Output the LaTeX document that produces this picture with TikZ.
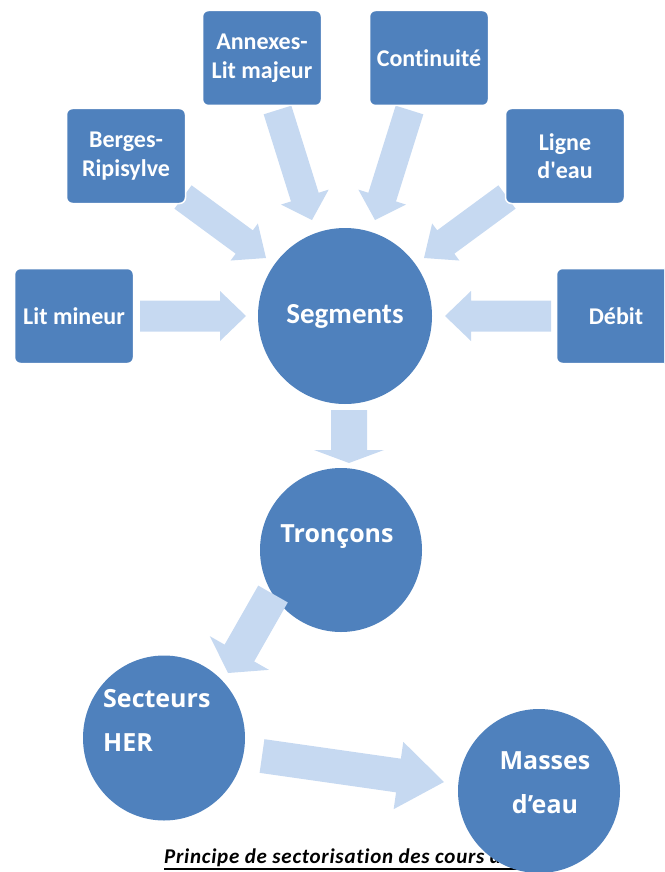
\documentclass[tikz,border=0pt]{standalone}
\usepackage{fontspec}
\setmainfont{Carlito}[Ligatures={TeXOff,CommonOff}]
\newfontfamily\circfont{Open Sans}
\newfontfamily\capfont{Carlito}[LetterSpace=3.5,Ligatures=CommonOff]
\usetikzlibrary{calc,shapes.geometric}
\definecolor{boxblue}{HTML}{4F81BD}
\definecolor{arrowblue}{HTML}{C6D9F1}
\newcommand\blockarrow[5]{%
  \coordinate (ba-h) at ($(#2)!#5!(#1)$);
  \fill[arrowblue] ($(#1)!#3!90:(#2)$) -- ($(ba-h)!#3!90:(#2)$) -- ($(ba-h)!#4!90:(#2)$) -- (#2)
    -- ($(ba-h)!#4!-90:(#2)$) -- ($(ba-h)!#3!-90:(#2)$) -- ($(#1)!#3!-90:(#2)$) -- cycle;
}
\begin{document}
\begin{tikzpicture}[x=1pt,y=-1pt,
  box/.style={fill=boxblue, draw=white, line width=1.5pt, rounded corners=6pt,
    minimum width=119pt, minimum height=95pt, text=white,
    font=\bfseries\fontsize{24}{28.5}\selectfont, align=center, inner sep=0pt},
  circ/.style={ellipse, fill=boxblue, inner sep=0pt},
  ctext/.style={text=white, font=\circfont\bfseries\fontsize{25}{30}\selectfont, inner sep=0pt}]
\useasboundingbox (0,0) rectangle (664,872);
\clip (0,0) rectangle (664,872);

% circles
\node[circ, minimum width=174pt, minimum height=176pt, text=white,
  font=\bfseries\fontsize{29}{34}\selectfont] (seg) at (345,316) {Segments};
\node[circ, minimum width=162pt, minimum height=164pt] (tron) at (341,550) {};
\node[circ, minimum width=162pt, minimum height=165pt] (sect) at (164,738) {};

% caption
\node[anchor=base west, inner sep=0pt, font=\capfont\bfseries\itshape\fontsize{21}{24}\selectfont]
  (cap) at (164,863) {Principe de sectorisation des cours d'eau};
\draw[line width=1.6pt] ([yshift=-6pt]cap.base west) -- ([yshift=-6pt]cap.base east);
\node[circ, minimum width=162pt, minimum height=164pt] (mass) at (539,791) {};

% arrow end points
\coordinate (litA) at (140,316);   \coordinate (litB) at (246,316);
\coordinate (debA) at (551,316);   \coordinate (debB) at (445,316);
\coordinate (berA) at (183,197);   \coordinate (berB) at (266,258);
\coordinate (ligA) at (507,197);   \coordinate (ligB) at (424,258);
\coordinate (annA) at (277.5,110); \coordinate (annB) at (312,220);
\coordinate (conA) at (409.5,110); \coordinate (conB) at (375,220);
\coordinate (stA) at (349,410);    \coordinate (stB) at (349,463);
\coordinate (tsA) at (273,594);    \coordinate (tsB) at (228,673);
\coordinate (smA) at (262,756);    \coordinate (smB) at (444,782);

\blockarrow{litA}{litB}{15.5pt}{25pt}{26pt}
\blockarrow{debA}{debB}{15.5pt}{25pt}{26pt}
\blockarrow{berA}{berB}{14.5pt}{23pt}{27pt}
\blockarrow{ligA}{ligB}{14.5pt}{23pt}{27pt}
\blockarrow{annA}{annB}{14.5pt}{25pt}{24pt}
\blockarrow{conA}{conB}{14.5pt}{25pt}{24pt}
\blockarrow{stA}{stB}{18pt}{35pt}{13pt}
\blockarrow{tsA}{tsB}{17pt}{34pt}{23pt}
\blockarrow{smA}{smB}{17pt}{34pt}{46pt}

% boxes
\node[box] (litmin) at (74,316) {Lit mineur};
\node[box] (berges) at (126,156) {Berges-\\Ripisylve};
\node[box] (annex) at (262,58) {Annexes-\\Lit majeur};
\node[box] (conti) at (429,58) {Continuité};
\node[box] (ligne) at (565,156) {Ligne\\d'eau};
\node[box] (debit) at (616,316) {Débit};

% circle labels
\node[ctext, anchor=base] (ttron) at (337,542) {Tronçons};
\node[ctext, anchor=base west] (tsec1) at (103,707) {Secteurs};
\node[ctext, anchor=base west] (tsec2) at (103,751) {HER};
\node[ctext, anchor=base] (tmas1) at (545,769) {Masses};
\node[ctext, anchor=base] (tmas2) at (545,813) {d’eau};
\end{tikzpicture}
\end{document}
